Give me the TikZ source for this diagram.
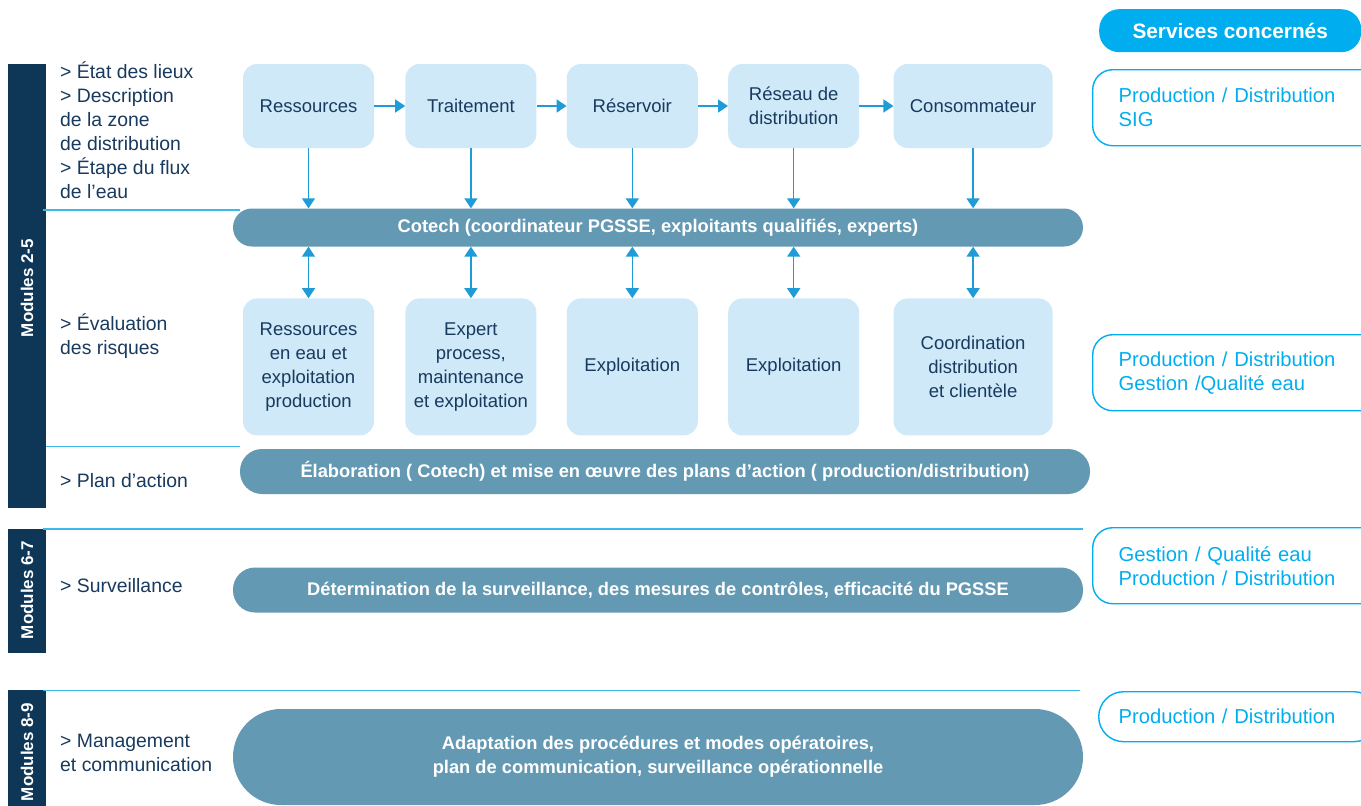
\documentclass[tikz,border=0pt]{standalone}
\usepackage{fontspec}
\setmainfont{Liberation Sans}
\usetikzlibrary{positioning,arrows.meta}

\definecolor{navy}{HTML}{0E3657}
\definecolor{ink}{HTML}{183A5E}
\definecolor{pale}{HTML}{CFE9F9}
\definecolor{barre}{HTML}{6399B3}
\definecolor{fleche}{HTML}{1F9BD7}
\definecolor{cyanserv}{HTML}{00AEEF}
\definecolor{filet}{HTML}{3DB8EA}

\tikzset{
  flux/.style={rectangle,rounded corners=14pt,fill=pale,text=ink,minimum width=131pt,
    minimum height=84pt,align=center,inner sep=2pt,font=\fontsize{18.5}{24}\selectfont},
  risque/.style={flux,minimum height=137pt},
  bande/.style={rectangle,fill=barre,text=white,minimum width=850pt,align=center,
    font=\bfseries\fontsize{18.3}{24}\selectfont},
  etape/.style={text=ink,align=left,inner sep=0pt,font=\fontsize{19.4}{24}\selectfont},
  module/.style={rotate=90,text=white,font=\bfseries\fontsize{17}{20}\selectfont},
  service/.style={draw=cyanserv,line width=1.4pt,rounded corners=20pt,text=cyanserv,
    text width=240pt,inner xsep=26pt,align=left,font=\fontsize{20.2}{24}\selectfont},
  fil/.style={fleche,line width=1.5pt},
  separ/.style={filet,line width=1.6pt}
}

\begin{document}
\begin{tikzpicture}[x=1pt,y=-1pt,node distance=30pt,
  >={Triangle[width=13pt,length=10pt]}]
  \useasboundingbox (0,0) rectangle (1361,806);
  \clip (0,0) rectangle (1361,806);

  % modules
  \fill[navy] (8,64) rectangle (46,508);
  \fill[navy] (8,529) rectangle (46,653);
  \fill[navy] (8,690) rectangle (46,810);
  \node[module] (m25) at (27,288) {Modules 2-5};
  \node[module] (m67) at (27,590) {Modules 6-7};
  \node[module] (m89) at (27,752) {Modules 8-9};

  \draw[separ] (43,210) -- (240,210);
  \draw[separ] (46,446.5) -- (240,446.5);
  \draw[separ] (43,529) -- (1083,529);
  \draw[separ] (43,690.5) -- (1080,690.5);

  % etapes
  \node[etape,anchor=north west] (etat) at (60,61)
    {> État des lieux\\> Description\\de la zone\\de distribution\\> Étape du flux\\de l’eau};
  \node[etape,anchor=north west] (evaluation) at (60,313) {> Évaluation\\des risques};
  \node[etape,anchor=north west] (plan) at (60,473) {> Plan d’action};
  \node[etape,anchor=north west] (surv) at (60,578) {> Surveillance};
  \node[etape,anchor=north west] (manag) at (60,734) {> Management\\et communication};

  % flux de l'eau
  \node[flux] (ressources) at (308.5,106) {Ressources};
  \node[flux,right=31pt of ressources] (traitement) {Traitement};
  \node[flux,right=30pt of traitement] (reservoir) {Réservoir};
  \node[flux,right=30pt of reservoir,align=left] (reseau) {Réseau de\\distribution};
  \node[flux,right=34pt of reseau,minimum width=159pt] (consommateur) {Consommateur};
  \foreach \a/\b in {ressources/traitement,traitement/reservoir,reservoir/reseau,reseau/consommateur}
    \draw[fil,->] (\a) -- (\b);

  \node[bande,minimum height=38pt,rounded corners=19pt] (cotech) at (658,227.5)
    {Cotech (coordinateur PGSSE, exploitants qualifiés, experts)};

  \node[risque,below=150pt of ressources] (res2) {Ressources\\en eau et\\exploitation\\production};
  \node[risque,below=150pt of traitement] (expert) {Expert\\process,\\maintenance\\et exploitation};
  \node[risque,below=150pt of reservoir] (exploit1) {Exploitation};
  \node[risque,below=150pt of reseau] (exploit2) {Exploitation};
  \node[risque,below=150pt of consommateur,minimum width=159pt] (coord) {Coordination\\distribution\\et clientèle};

  \foreach \n in {ressources,traitement,reservoir,reseau,consommateur}
    \draw[fil,->] (\n) -- (\n |- cotech.north);
  \foreach \n in {res2,expert,exploit1,exploit2,coord}
    \draw[fil,<->] (\n.north |- cotech.south) -- (\n);

  \node[bande,minimum height=45pt,rounded corners=22pt] (elab) at (665,471.5)
    {Élaboration ( Cotech) et mise en œuvre des plans d’action ( production/distribution)};
  \node[bande,minimum height=45pt,rounded corners=22pt] (determ) at (658,590)
    {Détermination de la surveillance, des mesures de contrôles, efficacité du PGSSE};
  \node[bande,minimum height=96pt,rounded corners=48pt] (adapt) at (658,757)
    {Adaptation des procédures et modes opératoires,\\plan de communication, surveillance opérationnelle};

  % services
  \node[fill=cyanserv,rounded corners=20pt,minimum width=262pt,minimum height=43pt,text=white,
    anchor=north west,font=\bfseries\fontsize{20.8}{24}\selectfont] (services) at (1099,9) {Services concernés};
  \node[service,minimum height=76pt,anchor=north west] (serv1) at (1092,69)
    {Production / Distribution\\SIG};
  \node[service,minimum height=76pt,anchor=north west] (serv2) at (1092,334)
    {Production / Distribution\\Gestion /Qualité eau};
  \node[service,minimum height=76pt,anchor=north west] (serv3) at (1092,527)
    {Gestion / Qualité eau\\Production / Distribution};
  \node[service,minimum height=50pt,rounded corners=25pt,inner xsep=20pt,anchor=north west] (serv4) at (1098,691)
    {Production / Distribution};
\end{tikzpicture}
\end{document}
